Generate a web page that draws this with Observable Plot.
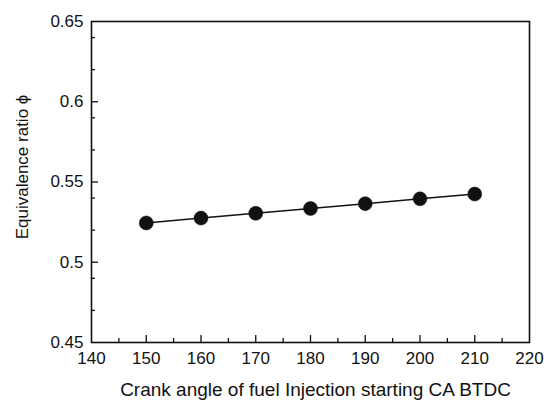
<!DOCTYPE html>
<html>
<head>
<meta charset="utf-8">
<script src="https://cdn.jsdelivr.net/npm/d3@7"></script>
<script src="https://cdn.jsdelivr.net/npm/@observablehq/plot@0.6"></script>
<style>
  html, body { margin: 0; padding: 0; background: #fff; }
  #chart svg { display: block; }
</style>
</head>
<body>
<div id="chart"></div>
<script>
// Data
const crankAngle = [150, 160, 170, 180, 190, 200, 210];
const equivalenceRatio = [0.5245, 0.5275, 0.5305, 0.5335, 0.5365, 0.5395, 0.5425];

const xMajorTicks = [140, 150, 160, 170, 180, 190, 200, 210, 220];
const xTickLabels = ["140", "150", "160", "170", "180", "190", "200", "210", "220"];
const xMinorTicks = [145, 155, 165, 175, 185, 195, 205, 215];
const yMajorTicks = [0.45, 0.5, 0.55, 0.6, 0.65];
const yTickLabels = ["0.45", "0.5", "0.55", "0.6", "0.65"];
const yMinorTicks = [0.47, 0.49, 0.52, 0.54, 0.57, 0.59, 0.62, 0.64];

const xTitle = "Crank angle of fuel Injection starting CA BTDC";
const yTitle = "Equivalence ratio \u03d5";

const data = crankAngle.map((x, i) => ({x, y: equivalenceRatio[i]}));
const ink = "#111";

const W = 546, H = 408, ML = 91, MR = 17, MT = 21, MB = 66;
const frameW = W - ML - MR, frameH = H - MT - MB;
const majorLen = 7, minorLen = 4;

const chart = Plot.plot({
  width: W,
  height: H,
  marginLeft: ML,
  marginRight: MR,
  marginTop: MT,
  marginBottom: MB,
  style: {fontFamily: "'Liberation Sans', Arial, sans-serif", fontSize: "17px", color: ink, background: "#fff"},
  x: {domain: [140, 220]},
  y: {domain: [0.45, 0.65]},
  marks: [
    Plot.axisX({ticks: xMajorTicks, tickSize: 0, tickPadding: 9, tickFormat: (d, i) => xTickLabels[i], label: null, fill: ink}),
    Plot.axisY({ticks: yMajorTicks, tickSize: 0, tickPadding: 8, tickFormat: (d, i) => yTickLabels[i], label: null, fill: ink}),
    // inward ticks on bottom and left edges
    Plot.tickX(xMajorTicks.slice(1, -1), {x: d => d, insetTop: frameH - majorLen, stroke: ink, strokeWidth: 1.3}),
    Plot.tickX(xMinorTicks, {x: d => d, insetTop: frameH - minorLen, stroke: ink, strokeWidth: 1.3}),
    Plot.tickY(yMajorTicks.slice(1, -1), {y: d => d, insetRight: frameW - majorLen, stroke: ink, strokeWidth: 1.3}),
    Plot.tickY(yMinorTicks, {y: d => d, insetRight: frameW - minorLen, stroke: ink, strokeWidth: 1.3}),
    Plot.frame({stroke: ink, strokeWidth: 1.6}),
    Plot.line(data, {x: "x", y: "y", stroke: ink, strokeWidth: 1.5}),
    Plot.dot(data, {x: "x", y: "y", r: 7, fill: ink, stroke: ink, strokeWidth: 0.5}),
    Plot.text([xTitle], {text: d => d, frameAnchor: "bottom", textAnchor: "middle", dx: 5, dy: 53, fill: ink, fontSize: 19}),
    Plot.text([yTitle], {text: d => d, frameAnchor: "left", textAnchor: "middle", rotate: -90, dx: -69, dy: -15, fill: ink, fontSize: 17})
  ]
});
document.getElementById("chart").append(chart);
</script>
</body>
</html>
